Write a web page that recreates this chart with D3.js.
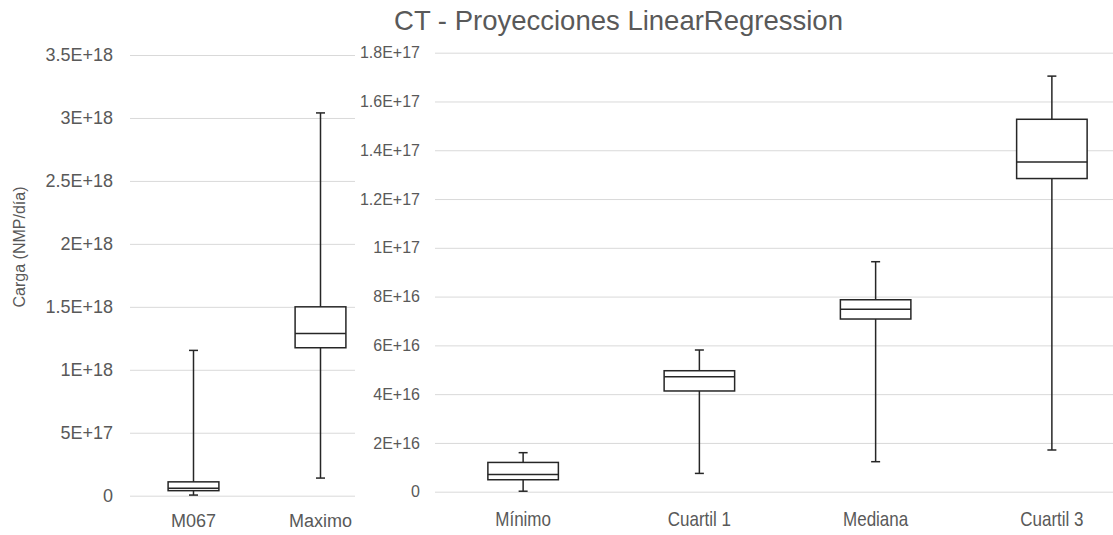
<!DOCTYPE html>
<html>
<head>
<meta charset="utf-8">
<script src="https://cdn.jsdelivr.net/npm/d3@7/dist/d3.min.js"></script>
<style>
  html, body { margin: 0; padding: 0; background: #fff; }
  svg { display: block; }
  text { font-family: "Liberation Sans", Arial, sans-serif; fill: #595959; }
</style>
</head>
<body>
<svg id="chart" width="1113" height="535"></svg>
<script>
// Left panel: absolute load (M067 and Maximo)
const leftCategories = ["M067", "Maximo"];
const leftMin    = [0.005e18, 0.14e18];
const leftQ1     = [0.040e18, 1.175e18];
const leftMedian = [0.060e18, 1.288e18];
const leftQ3     = [0.110e18, 1.500e18];
const leftMax    = [1.154e18, 3.040e18];
const leftTicks  = [0, 5e17, 1e18, 1.5e18, 2e18, 2.5e18, 3e18, 3.5e18];

// Right panel: projected quartiles
const rightCategories = ["Mínimo", "Cuartil 1", "Mediana", "Cuartil 3"];
const rightMin    = [0.02e16, 0.75e16, 1.23e16, 1.71e16];
const rightQ1     = [0.49e16, 4.13e16, 7.08e16, 12.84e16];
const rightMedian = [0.71e16, 4.71e16, 7.48e16, 13.52e16];
const rightQ3     = [1.20e16, 4.96e16, 7.87e16, 15.27e16];
const rightMax    = [1.60e16, 5.81e16, 9.43e16, 17.04e16];
const rightTicks  = [0, 2e16, 4e16, 6e16, 8e16, 1e17, 1.2e17, 1.4e17, 1.6e17, 1.8e17];

const titleText = "CT - Proyecciones LinearRegression";
const yTitleText = "Carga (NMP/día)";

const svg = d3.select("#chart");

// Excel-style scientific tick labels: 0, 5E+17, 1.5E+18 ...
const sci = v => v === 0 ? "0" : v.toExponential().replace("e", "E");

function rows(cats, mn, q1, md, q3, mx) {
  return cats.map((c, i) => ({ cat: c, min: mn[i], q1: q1[i], med: md[i], q3: q3[i], max: mx[i] }));
}

function drawPanel(g, opts) {
  const x = d3.scaleBand().domain(opts.categories).range(opts.xRange).paddingInner(0).paddingOuter(0);
  const y = d3.scaleLinear().domain([0, opts.ticks[opts.ticks.length - 1]]).range(opts.yRange);

  const axis = d3.axisLeft(y)
    .tickValues(opts.ticks)
    .tickFormat(sci)
    .tickSizeInner(-(opts.gridEnd - opts.xRange[0]))
    .tickSizeOuter(0)
    .tickPadding(opts.tickPad);

  const ag = g.append("g")
    .attr("transform", `translate(${opts.xRange[0]},0)`)
    .call(axis);
  ag.select(".domain").remove();
  ag.selectAll(".tick line").attr("stroke", "#d9d9d9").attr("stroke-width", 1);
  ag.selectAll(".tick text")
    .attr("fill", "#595959")
    .style("font-family", "'Liberation Sans', Arial, sans-serif")
    .style("font-size", opts.tickFont + "px");

  // Category labels (optionally condensed horizontally)
  g.selectAll("text.cat").data(opts.categories).join("text")
    .attr("class", "cat")
    .attr("transform", d => `translate(${x(d) + x.bandwidth() / 2},${opts.catY}) scale(${opts.catScaleX},1)`)
    .attr("text-anchor", "middle")
    .style("font-size", opts.catFont + "px")
    .text(d => d);

  const boxW = x.bandwidth() * 0.4;
  const capW = 9;
  const stroke = "#262626";

  const bx = g.selectAll("g.box").data(opts.data).join("g").attr("class", "box");
  const cx = d => x(d.cat) + x.bandwidth() / 2;
  // Whiskers
  bx.append("line")
    .attr("x1", cx).attr("x2", cx)
    .attr("y1", d => y(d.max)).attr("y2", d => y(d.min))
    .attr("stroke", stroke).attr("stroke-width", 1.5);
  // Caps
  ["min", "max"].forEach(k => {
    bx.append("line")
      .attr("x1", d => cx(d) - capW / 2)
      .attr("x2", d => cx(d) + capW / 2)
      .attr("y1", d => y(d[k])).attr("y2", d => y(d[k]))
      .attr("stroke", stroke).attr("stroke-width", 1.5);
  });
  // Box
  bx.append("rect")
    .attr("x", d => cx(d) - boxW / 2)
    .attr("width", boxW)
    .attr("y", d => y(d.q3))
    .attr("height", d => y(d.q1) - y(d.q3))
    .attr("fill", "#fff")
    .attr("stroke", stroke).attr("stroke-width", 1.5);
  // Median
  bx.append("line")
    .attr("x1", d => cx(d) - boxW / 2)
    .attr("x2", d => cx(d) + boxW / 2)
    .attr("y1", d => y(d.med)).attr("y2", d => y(d.med))
    .attr("stroke", stroke).attr("stroke-width", 1.5);
}

// Left chart
const left = svg.append("g");
drawPanel(left, {
  categories: leftCategories,
  ticks: leftTicks,
  data: rows(leftCategories, leftMin, leftQ1, leftMedian, leftQ3, leftMax),
  xRange: [130, 384],
  gridEnd: 384,
  yRange: [495.7, 55],
  tickPad: 17,
  tickFont: 18,
  catY: 527,
  catFont: 18,
  catScaleX: 1
});

left.append("text")
  .attr("transform", "translate(25,247) rotate(-90)")
  .attr("text-anchor", "middle")
  .style("font-size", "16px")
  .text(yTitleText);

// Right chart sits on its own white canvas, overlapping the left one
const right = svg.append("g");
right.append("rect")
  .attr("x", 355).attr("y", 0).attr("width", 1113 - 355).attr("height", 535)
  .attr("fill", "#fff");
drawPanel(right, {
  categories: rightCategories,
  ticks: rightTicks,
  data: rows(rightCategories, rightMin, rightQ1, rightMedian, rightQ3, rightMax),
  xRange: [435, 1140],
  gridEnd: 1140,
  yRange: [491.7, 52.7],
  tickPad: 15,
  tickFont: 16,
  catY: 526,
  catFont: 20,
  catScaleX: 0.85
});

svg.append("text")
  .attr("x", 618.5).attr("y", 30)
  .attr("text-anchor", "middle")
  .style("font-size", "27.5px")
  .text(titleText);
</script>
</body>
</html>
